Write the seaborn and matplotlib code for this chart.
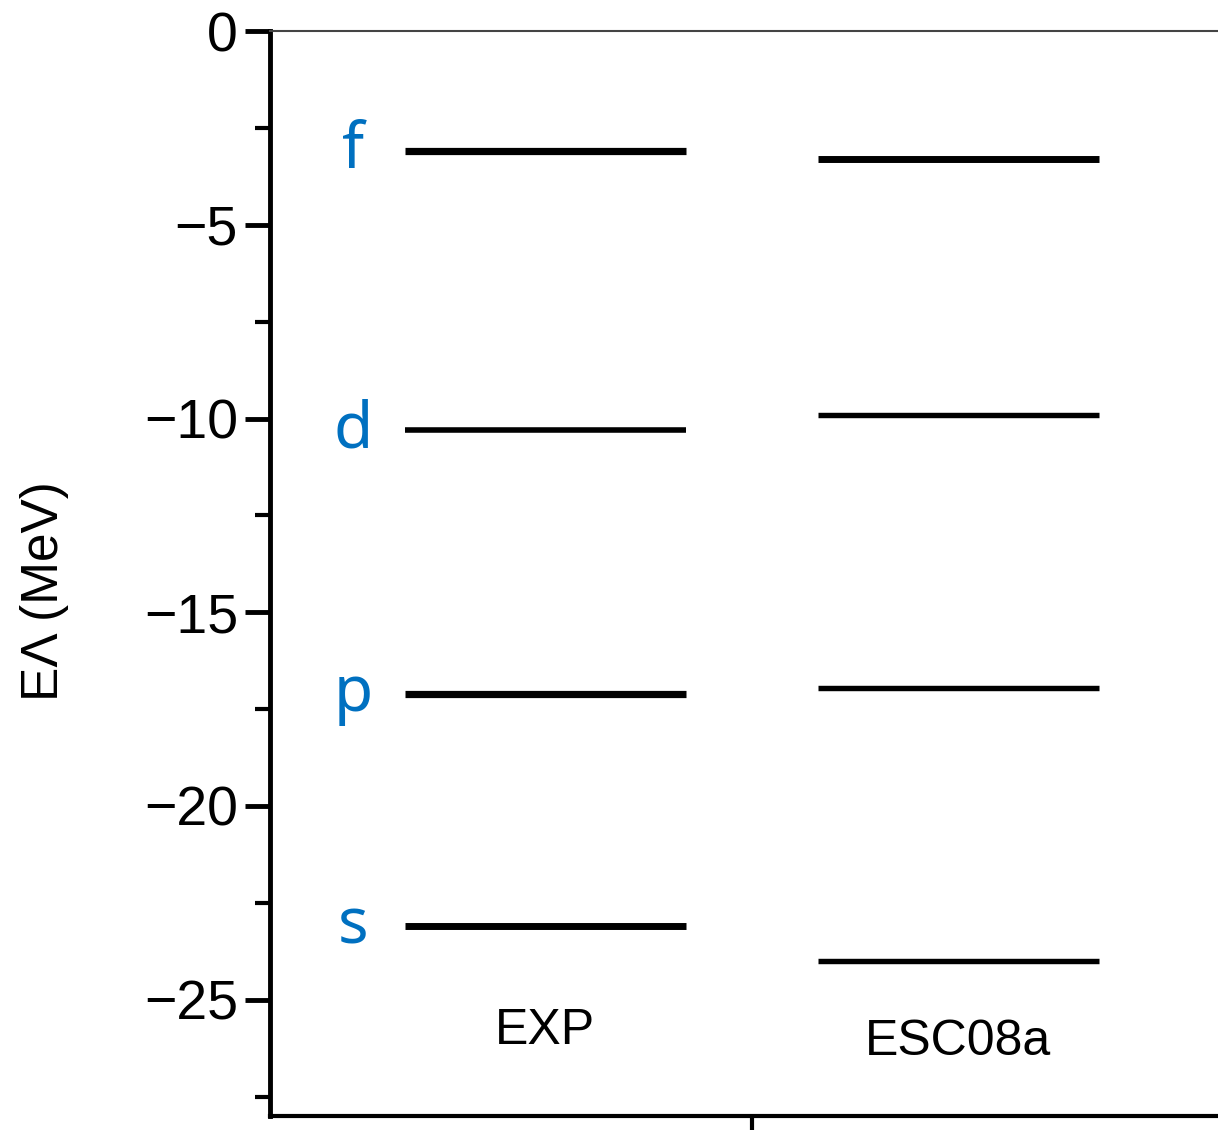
import matplotlib
matplotlib.use("Agg")
import matplotlib.pyplot as plt
import seaborn as sns
import pandas as pd
import numpy as np
from matplotlib.ticker import MultipleLocator

# ---- data ----
models = ["EXP", "ESC08a"]
levels = ["s", "p", "d", "f"]
exp_energy = [-23.1, -17.1, -10.3, -3.1]
esc_energy = [-24.0, -16.95, -9.9, -3.3]

# ---- style ----
exp_lw = [5.0, 5.2, 4.0, 5.2]
esc_lw = [3.9, 3.9, 3.9, 5.0]
half_width = 0.34
label_color = "#0070C0"

sns.set_theme(style="ticks")
plt.rcParams["font.family"] = ["Liberation Sans", "DejaVu Sans"]
plt.rcParams["text.color"] = "black"
plt.rcParams["axes.labelcolor"] = "black"
plt.rcParams["xtick.color"] = "black"
plt.rcParams["ytick.color"] = "black"

fig = plt.figure(figsize=(12.18, 11.36), dpi=100)
ax = fig.add_axes([270 / 1218, 20 / 1136, 964 / 1218, 1085 / 1136])

for mi, (m, energies, lws) in enumerate(zip(models, [exp_energy, esc_energy], [exp_lw, esc_lw])):
    for lev, e, lw in zip(levels, energies, lws):
        seg = pd.DataFrame({"x": [mi - half_width, mi + half_width], "E": [e, e]})
        sns.lineplot(data=seg, x="x", y="E", ax=ax, color="black", lw=lw,
                     estimator=None, sort=False, solid_capstyle="butt")

# level letters next to EXP
for lev, e in zip(levels, exp_energy):
    ax.text(-0.465, e, lev, color=label_color, fontsize=46, ha="center",
            va="center", family=["Noto Sans", "DejaVu Sans"])

# model labels
label_y = [-25.8, -26.1]
for mi, (m, ly) in enumerate(zip(models, label_y)):
    ax.text(mi, ly, m, fontsize=36, ha="center", va="center", color="black")

ax.set_xlim(-0.666, 1.668)
ax.set_ylim(-28, 0)
ax.set_xticks([0.5])
ax.set_xticklabels([""])
ax.yaxis.set_minor_locator(MultipleLocator(2.5))
ax.set_yticks([0, -5, -10, -15, -20, -25])
ax.set_yticklabels(["0", "\u22125", "\u221210", "\u221215", "\u221220", "\u221225"])
ax.tick_params(axis="y", which="major", length=18, width=3.5, labelsize=40,
               pad=5, colors="black", direction="out")
ax.tick_params(axis="y", which="minor", length=11, width=3, color="black",
               direction="out")
ax.tick_params(axis="x", which="major", length=10, width=3, color="black",
               direction="out")
ax.set_xlabel("")
ax.set_ylabel("E\u039b (MeV)", fontsize=37, color="black")
ax.yaxis.set_label_coords(-0.209, 0.484)

ax.spines["left"].set_linewidth(3.5)
ax.spines["bottom"].set_linewidth(3.0)
ax.spines["top"].set_linewidth(1.5)
ax.spines["top"].set_color("#444444")
ax.spines["right"].set_visible(False)
for s in ["left", "bottom"]:
    ax.spines[s].set_color("black")

fig.savefig("out.png", dpi=100)
